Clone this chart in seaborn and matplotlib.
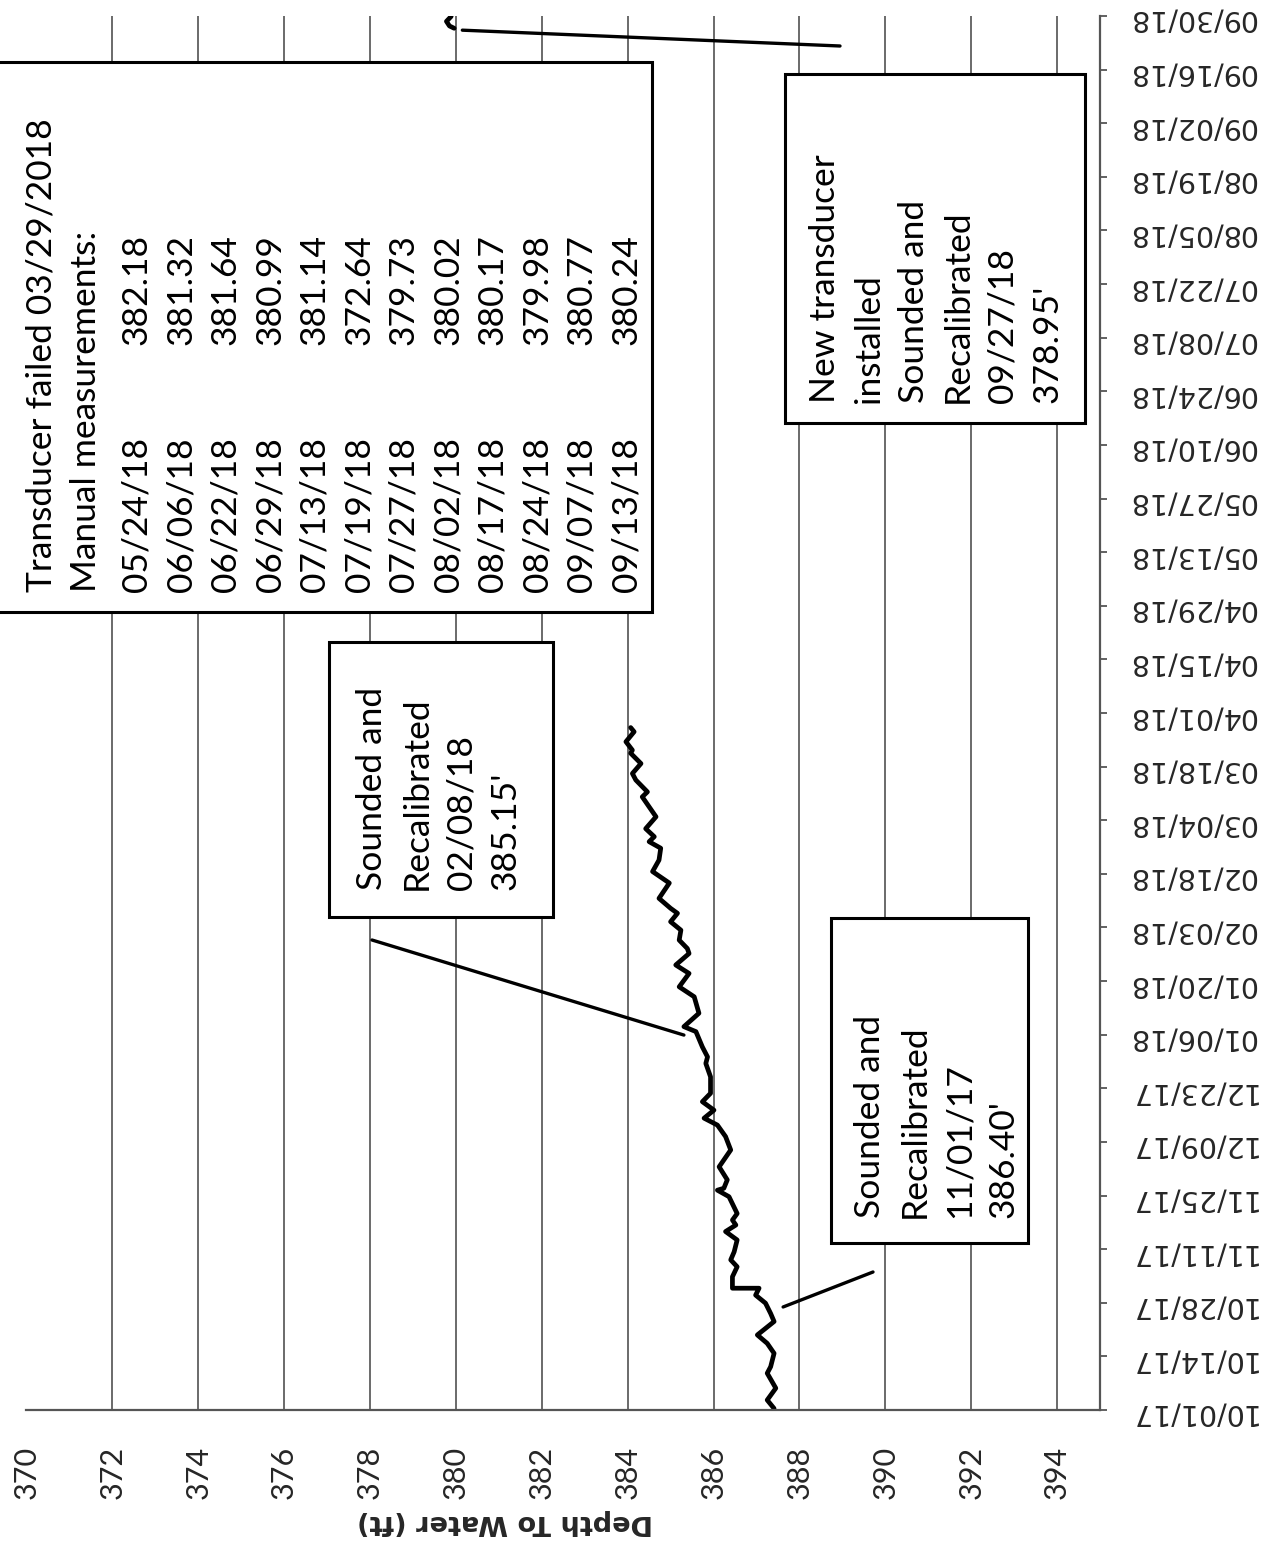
import numpy as np
import pandas as pd
import matplotlib
matplotlib.use("Agg")
import matplotlib.pyplot as plt
from matplotlib.patches import Rectangle
import seaborn as sns

# ---------------- data ----------------
# days since 10/01/2017 and depth to water (ft), old transducer record
days = [0.4, 2.6, 5.7, 9.6, 11.3, 14.8, 17.4, 19.6, 23.1, 25.2, 27.9, 30.0, 31.8,
        31.8, 34.8, 37.4, 39.2, 41.3, 44.4, 46.6, 48.3, 49.6, 51.3, 55.7, 57.4,
        57.9, 60.1, 63.5, 67.9, 71.4, 74.4, 76.2, 78.3, 80.5, 82.7, 87.0, 90.5,
        92.2, 94.8, 98.8, 100.1, 103.6, 107.9, 110.5, 114.0, 116.2, 119.2, 120.5,
        122.7, 125.3, 127.5, 129.7, 131.0, 133.6, 137.6, 140.6, 143.6, 146.7,
        148.4, 149.7, 151.8, 154.9, 160.1, 161.4, 164.5, 166.2, 168.8, 171.5,
        172.3, 174.5, 177.1, 178.2]
depth = [387.41, 387.25, 387.45, 387.25, 387.33, 387.41, 387.25, 387.02, 387.41,
         387.33, 387.21, 386.98, 387.06,
         386.44, 386.44, 386.55, 386.40, 386.48, 386.55, 386.28, 386.52, 386.44,
         386.55, 386.36, 386.09, 386.24, 386.32, 386.13, 386.40, 386.28, 386.09,
         385.78, 386.01, 385.74, 385.93, 385.93, 385.82, 385.86, 385.74, 385.59,
         385.31, 385.66, 385.55, 385.20, 385.43, 385.12, 385.43, 385.39, 385.20,
         385.24, 385.00, 385.16, 385.00, 384.73, 384.97, 384.58, 384.73, 384.77,
         384.50, 384.62, 384.42, 384.66, 384.34, 384.46, 384.19, 384.11, 384.31,
         384.07, 384.11, 383.96, 384.15, 384.07]

# new transducer record (end of September 2018)
new_days = [360.8, 361.4, 362.6, 363.9]
new_depth = [379.96, 379.85, 379.78, 379.89]

date_labels = ["10/01/17", "10/14/17", "10/28/17", "11/11/17", "11/25/17",
               "12/09/17", "12/23/17", "01/06/18", "01/20/18", "02/03/18",
               "02/18/18", "03/04/18", "03/18/18", "04/01/18", "04/15/18",
               "04/29/18", "05/13/18", "05/27/18", "06/10/18", "06/24/18",
               "07/08/18", "07/22/18", "08/05/18", "08/19/18", "09/02/18",
               "09/16/18", "09/30/18"]
depth_ticks = [370, 372, 374, 376, 378, 380, 382, 384, 386, 388, 390, 392, 394]

manual_dates = ["05/24/18", "06/06/18", "06/22/18", "06/29/18", "07/13/18",
                "07/19/18", "07/27/18", "08/02/18", "08/17/18", "08/24/18",
                "09/07/18", "09/13/18"]
manual_values = ["382.18", "381.32", "381.64", "380.99", "381.14", "372.64",
                 "379.73", "380.02", "380.17", "379.98", "380.77", "380.24"]

# ---------------- style ----------------
sns.set_theme(style="white")
plt.rcParams["font.family"] = ["Lato", "DejaVu Sans"]

W, H = 1267, 1550
fig = plt.figure(figsize=(W / 100, H / 100), dpi=100)
fx = lambda x: x / W
fy = lambda y: 1 - y / H
ax = fig.add_axes([fx(26.5), fy(1410), (1100 - 26.5) / W, (1410 - 16) / H])

df_old = pd.DataFrame({"depth": depth, "day": days})
df_new = pd.DataFrame({"depth": new_depth, "day": new_days})
sns.lineplot(data=df_old, x="depth", y="day", sort=False, estimator=None,
             color="black", lw=3.4, ax=ax)
sns.lineplot(data=df_new, x="depth", y="day", sort=False, estimator=None,
             color="black", lw=3.4, ax=ax)
for l in ax.lines:
    l.set_solid_joinstyle("round")
    l.set_solid_capstyle("round")

ax.set_xlim(370, 395)
ax.set_ylim(0, 364)
ax.set_xticks(depth_ticks)
ax.set_xticklabels([str(v) for v in depth_ticks], rotation=90)
ax.set_yticks(np.linspace(0, 364, len(date_labels)))
ax.set_yticklabels(date_labels, rotation=180, family="DejaVu Sans")
ax.yaxis.tick_right()
ax.grid(axis="x", color="#5f5f5f", lw=1.3)
ax.grid(axis="y", visible=False)
for s in ["left", "top"]:
    ax.spines[s].set_visible(False)
for s in ["bottom", "right"]:
    ax.spines[s].set_color("#555555")
    ax.spines[s].set_linewidth(1.6)
ax.tick_params(axis="x", direction="out", length=8, width=1.3, color="#555555",
               pad=18, labelsize=22)
ax.tick_params(axis="y", direction="out", length=5, width=1.3, color="#555555",
               pad=15, labelsize=20.5, right=True, left=False)
ax.set_ylabel("")
ax.set_xlabel("Depth To Water (ft)", rotation=180, fontsize=19.5,
              fontweight="bold", family="DejaVu Sans")
axw = (1100 - 26.5) / W
ax.xaxis.set_label_coords((fx(505) - fx(26.5)) / axw, -(1522 - 1410) / (1410 - 16))
ax.xaxis.label.set_va("center")

# ---------------- annotation boxes ----------------
def box(x0, y0, x1, y1):
    fig.add_artist(Rectangle((fx(x0), fy(y1)), (x1 - x0) / W, (y1 - y0) / H,
                             transform=fig.transFigure, facecolor="white",
                             edgecolor="black", lw=2.2, zorder=3))

TXT = dict(rotation=90, ha="center", va="bottom", multialignment="left",
           fontsize=25.5, linespacing=1.48, zorder=5, color="black")

box(-5, 62, 652, 612)
fig.text(fx(64), fy(592), "Transducer failed 03/29/2018\nManual measurements:", **TXT)
fig.text(fx(381.5), fy(592), "\n".join(manual_dates), **TXT)
fig.text(fx(381.5), fy(345), "\n".join(manual_values), **TXT)

box(329, 642, 553, 917)
fig.text(fx(439), fy(890), "Sounded and\nRecalibrated\n02/08/18\n385.15'", **TXT)

box(785, 74, 1085, 423)
fig.text(fx(936), fy(403),
         "New transducer\ninstalled\nSounded and\nRecalibrated\n09/27/18\n378.95'", **TXT)

box(831, 918, 1028, 1243)
fig.text(fx(937), fy(1218), "Sounded and\nRecalibrated\n11/01/17\n386.40'", **TXT)

ARW = dict(arrowstyle="-", lw=2.4, color="black", shrinkA=0, shrinkB=0)
ax.annotate("", xy=(387.62, 26.9), xycoords="data",
            xytext=(fx(873), fy(1272)), textcoords="figure fraction",
            arrowprops=ARW, annotation_clip=False)
ax.annotate("", xy=(385.31, 97.9), xycoords="data",
            xytext=(fx(372), fy(940)), textcoords="figure fraction",
            arrowprops=ARW, annotation_clip=False)
ax.annotate("", xy=(380.15, 360.3), xycoords="data",
            xytext=(fx(840), fy(46)), textcoords="figure fraction",
            arrowprops=ARW, annotation_clip=False)

fig.savefig("out.png", dpi=100)
